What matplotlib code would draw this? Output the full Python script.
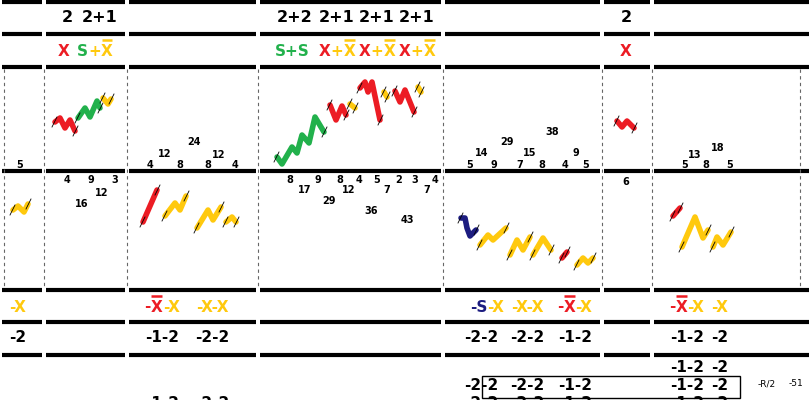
import matplotlib
matplotlib.use("Agg")
import matplotlib.pyplot as plt

RED, GRN, YEL, NAV = "#ec1c24", "#22b14c", "#ffc90e", "#1c1c80"
# horizontal rules (y) and column breaks (x)
rule_y = [2, 34, 67, 171, 290, 322, 355]
col_x = [0, 44, 127, 258, 443, 602, 652, 811]
dash_x = [4, 44, 127, 258, 443, 602, 652, 800]

row1 = [("2", 67), ("2+1", 100), ("2+2", 295), ("2+1", 337), ("2+1", 377), ("2+1", 417), ("2", 626)]
# "X~" means X with an overbar
row2 = [([("X", RED)], 64), ([("S", GRN), ("+", YEL), ("X~", YEL)], 95),
        ([("S+S", GRN)], 292),
        ([("X", RED), ("+", YEL), ("X~", YEL)], 337), ([("X", RED), ("+", YEL), ("X~", YEL)], 377),
        ([("X", RED), ("+", YEL), ("X~", YEL)], 417), ([("X", RED)], 626)]
row5 = [([("-X", YEL)], 18), ([("-", RED), ("X~", RED), ("-X", YEL)], 162), ([("-X-X", YEL)], 212),
        ([("-S", NAV), ("-X", YEL)], 487), ([("-X-X", YEL)], 527), ([("-", RED), ("X~", RED), ("-X", YEL)], 575),
        ([("-", RED), ("X~", RED), ("-X", YEL)], 687), ([("-X", YEL)], 720)]
row6 = [("-2", 18), ("-1-2", 162), ("-2-2", 212), ("-2-2", 481), ("-2-2", 527), ("-1-2", 575), ("-1-2", 687), ("-2", 720)]
row7 = [("-1-2", 687, 368), ("-2", 720, 368), ("-2-2", 481, 386), ("-2-2", 527, 386), ("-1-2", 575, 386),
        ("-1-2", 687, 386), ("-2", 720, 386), ("-1-2", 162, 404), ("-2-2", 212, 404),
        ("-2-2", 481, 404), ("-2-2", 527, 404), ("-1-2", 575, 404), ("-1-2", 687, 404), ("-2", 720, 404)]
counts = [("5", 20, 165), ("4", 150, 165), ("12", 165, 154), ("8", 180, 165), ("24", 194, 142), ("8", 208, 165),
          ("12", 219, 155), ("4", 235, 165), ("5", 470, 165), ("14", 482, 153), ("9", 494, 165), ("29", 507, 142),
          ("7", 520, 165), ("15", 530, 153), ("8", 542, 165), ("38", 552, 132), ("4", 565, 165), ("9", 576, 153),
          ("5", 586, 165), ("5", 685, 165), ("13", 695, 155), ("8", 706, 165), ("18", 718, 148), ("5", 730, 165),
          ("4", 67, 180), ("9", 91, 180), ("3", 115, 180), ("16", 82, 204), ("12", 102, 193),
          ("8", 290, 180), ("17", 305, 190), ("9", 318, 180), ("29", 329, 201), ("8", 340, 180), ("12", 349, 190),
          ("4", 359, 180), ("36", 371, 211), ("5", 377, 180), ("7", 387, 190), ("2", 399, 180), ("3", 415, 180),
          ("7", 427, 190), ("4", 435, 180), ("43", 407, 220), ("6", 626, 182)]
waves = [
    (RED, [55, 60, 65, 70, 75], [122, 118, 128, 120, 131]),
    (GRN, [78, 85, 90, 97, 100], [118, 108, 117, 101, 108]),
    (YEL, [103, 108, 111], [98, 104, 99]),
    (GRN, [277, 282, 292, 297, 302, 309, 315, 324], [157, 164, 147, 153, 135, 143, 117, 132]),
    (RED, [330, 336, 342, 346], [105, 120, 106, 115]),
    (YEL, [350, 355], [104, 108]),
    (RED, [360, 365, 368, 372, 380], [88, 82, 92, 82, 120]),
    (YEL, [384, 387], [92, 97]),
    (RED, [395, 400, 405, 414], [91, 102, 90, 112]),
    (YEL, [418, 421], [87, 92]),
    (RED, [617, 622, 627, 634], [121, 127, 121, 128]),
    (YEL, [13, 18, 24, 28], [210, 206, 212, 204]),
    (RED, [143, 157], [222, 190]),
    (YEL, [165, 175, 180, 186], [216, 203, 210, 196]),
    (YEL, [197, 208, 213, 221], [228, 210, 220, 207]),
    (YEL, [226, 232, 236], [222, 217, 222]),
    (NAV, [461, 465, 467, 470, 476], [218, 218, 228, 236, 230]),
    (YEL, [480, 488, 493, 506], [245, 235, 240, 228]),
    (YEL, [510, 517, 523, 530], [255, 240, 250, 237]),
    (YEL, [533, 543, 551], [255, 238, 250]),
    (RED, [562, 567], [258, 252]),
    (YEL, [577, 583, 588, 593], [265, 258, 263, 258]),
    (RED, [673, 680], [216, 208]),
    (YEL, [682, 695, 703, 708], [247, 217, 238, 230]),
    (YEL, [713, 717, 723, 731], [247, 237, 245, 232]),
]

fig = plt.figure(figsize=(8.11, 4.0), dpi=100)
ax = fig.add_axes([0, 0, 1, 1])
ax.set_xlim(0, 811); ax.set_ylim(400, 0); ax.axis("off")
rend = fig.canvas.get_renderer()

for y in rule_y:
    for a, b in zip(col_x[:-1], col_x[1:]):
        ax.plot([a + 2, b - 2], [y, y], color="black", lw=3, solid_capstyle="butt")
for x in dash_x:
    ax.plot([x, x], [69, 289], color="#666666", lw=0.8, ls=(0, (3, 3)))

def width_px(t, size):
    tt = ax.text(0, 0, t, fontsize=size, fontweight="bold")
    w = tt.get_window_extent(rend).width
    tt.remove()
    return w

def multi(parts, xc, y, size=11):
    items = [(t.rstrip("~"), c, t.endswith("~")) for t, c in parts]
    ws = [width_px(t, size) for t, _, _ in items]
    x = xc - sum(ws) / 2
    for (t, c, bar), w in zip(items, ws):
        ax.text(x, y, t, color=c, fontsize=size, fontweight="bold", ha="left", va="center")
        if bar:
            ax.plot([x + 0.5, x + w - 0.5], [y - 11.5, y - 11.5], color=c, lw=1.8, solid_capstyle="butt")
        x += w

for t, x in row1:
    ax.text(x, 18, t, fontsize=11.5, fontweight="bold", ha="center", va="center")
for parts, x in row2:
    multi(parts, x, 51)
for parts, x in row5:
    multi(parts, x, 307)
for t, x in row6:
    ax.text(x, 338, t, fontsize=11, fontweight="bold", ha="center", va="center")
for t, x, y in row7:
    ax.text(x, y, t, fontsize=11, fontweight="bold", ha="center", va="center")
for t, x, y in counts:
    ax.text(x, y, t, fontsize=7, fontweight="bold", ha="center", va="center")
for c, xs, ys in waves:
    ax.plot(xs, ys, color=c, lw=4, solid_capstyle="round", solid_joinstyle="round")
    ax.plot([xs[0] - 3, xs[0] + 2], [ys[0] + 5, ys[0] - 5], color="black", lw=0.6)
    ax.plot([xs[-1] - 2, xs[-1] + 3], [ys[-1] + 5, ys[-1] - 5], color="black", lw=0.6)

ax.add_patch(plt.Rectangle((482, 376), 258, 22, fill=False, lw=1, ec="black"))
ax.text(767, 384, "-R/2", fontsize=6.5, ha="center", va="center")
ax.text(796, 384, "-51", fontsize=6.5, ha="center", va="center")

fig.savefig("out.png", dpi=100)
